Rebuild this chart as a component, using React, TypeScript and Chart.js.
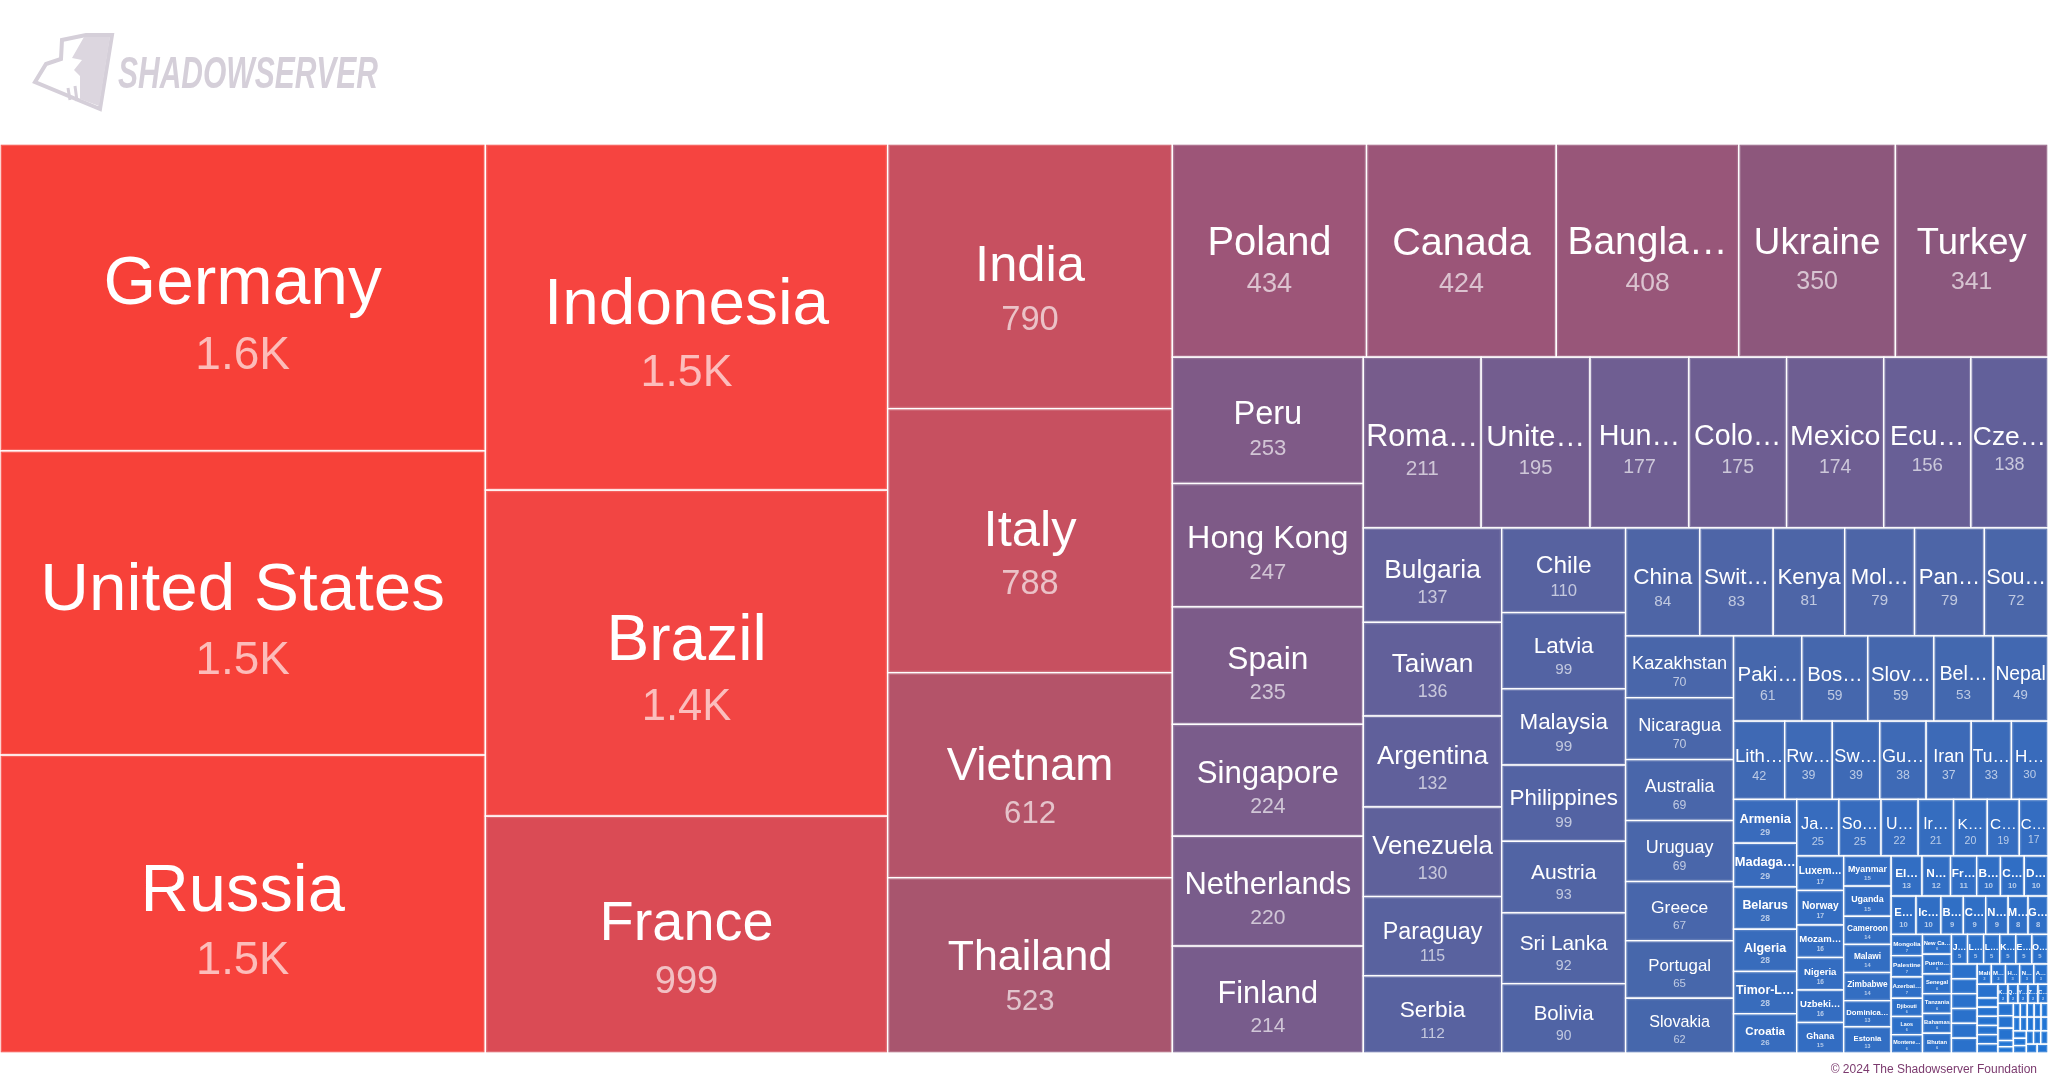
import React, { useEffect, useRef } from 'react';
import { Chart, DatasetController, Element, registerables } from 'chart.js';

// ---------------- data ----------------
const countryNames: string[] = [
  'Germany', 'United States', 'Russia', 'Indonesia', 'Brazil', 'France', 'India', 'Italy', 'Vietnam', 'Thailand',
  'Poland', 'Canada', 'Bangladesh', 'Ukraine', 'Turkey', 'Peru', 'Hong Kong', 'Spain', 'Singapore', 'Netherlands',
  'Finland', 'Romania', 'United Kingdom', 'Hungary', 'Colombia', 'Mexico', 'Ecuador', 'Czech Republic', 'Bulgaria', 'Taiwan',
  'Argentina', 'Venezuela', 'Paraguay', 'Serbia', 'Chile', 'Latvia', 'Malaysia', 'Philippines', 'Austria', 'Sri Lanka',
  'Bolivia', 'China', 'Switzerland', 'Kenya', 'Moldova', 'Panama', 'South Africa', 'Kazakhstan', 'Nicaragua', 'Australia',
  'Uruguay', 'Greece', 'Portugal', 'Slovakia', 'Pakistan', 'Bosnia and Herzegovina', 'Slovenia', 'Belgium', 'Nepal', 'Lithuania',
  'Rwanda', 'Sweden', 'Guatemala', 'Iran', 'Tunisia', 'Honduras', 'Armenia', 'Madagascar', 'Belarus', 'Algeria',
  'Timor-Leste', 'Croatia', 'Japan', 'South Korea', 'United Arab Emirates', 'Ireland', 'Kyrgyzstan', 'Costa Rica', 'Cyprus', 'Luxembourg',
  'Norway', 'Mozambique', 'Nigeria', 'Uzbekistan', 'Ghana', 'Myanmar', 'Uganda', 'Cameroon', 'Malawi', 'Zimbabwe',
  'Dominican Republic', 'Estonia', 'El Salvador', 'New Zealand', 'French Polynesia', 'Bahrain', 'Curaçao', 'Denmark', 'Egypt', 'Iceland',
  'Botswana', 'Cambodia', 'North Macedonia', 'Mauritius', 'Georgia', 'Mongolia', 'Palestine', 'Azerbaijan', 'Djibouti', 'Laos',
  'Montenegro', 'New Caledonia', 'Puerto Rico', 'Senegal', 'Tanzania', 'Bahamas', 'Bhutan', 'Jamaica', 'Lebanon', 'Libya',
  'Kosovo', 'European Union', 'Oman', 'Morocco', 'Macao', 'Saudi Arabia', 'San Marino', 'Syria', 'Guam', 'Mali',
  'Malta', 'Haiti', 'Namibia', 'Angola', 'Iraq', 'Togo', 'Niger', 'Sudan', 'Benin', 'Gabon',
  'Fiji', 'Kuwait', 'Qatar', 'Yemen', 'Zambia', 'Congo', 'Liberia', 'Guyana', 'Belize', 'Aruba',
  'Andorra', 'Monaco', 'Liechtenstein', 'Gibraltar', 'Greenland', 'Bermuda', 'Barbados', 'Brunei', 'Burundi', 'Chad',
  'Eritrea', 'Gambia', 'Guinea', 'Lesotho', 'Maldives', 'Samoa', 'Tonga', 'Vanuatu', 'Suriname',
];

const countryValues: number[] = [
  1562, 1548, 1516, 1460, 1375, 999, 790, 788, 612, 523,
  434, 424, 408, 350, 341, 253, 247, 235, 224, 220,
  214, 211, 195, 177, 175, 174, 156, 138, 137, 136,
  132, 130, 115, 112, 110, 99, 99, 99, 93, 92,
  90, 84, 83, 81, 79, 79, 72, 70, 70, 69,
  69, 67, 65, 62, 61, 59, 59, 53, 49, 42,
  39, 39, 38, 37, 33, 30, 29, 29, 28, 28,
  28, 26, 25, 25, 22, 21, 20, 19, 17, 17,
  17, 16, 16, 16, 15, 15, 15, 14, 14, 14,
  13, 13, 13, 12, 11, 10, 10, 10, 10, 10,
  9, 9, 9, 8, 8, 7, 7, 7, 6, 6,
  6, 6, 6, 6, 6, 6, 6, 5, 5, 5,
  5, 5, 5, 4, 4, 4, 4, 4, 4, 3,
  3, 3, 3, 3, 3, 2, 2, 2, 2, 2,
  2, 2, 2, 2, 2, 2, 2, 2, 2, 1,
  1, 1, 1, 1, 1, 1, 1, 1, 1, 1,
  1, 1, 1, 1, 1, 1, 1, 1, 1,
];

// ---------------- styles ----------------
// colour anchors: [value, r, g, b]
const colorStops: number[][] = [
  [1, 32, 116, 212],
  [26, 55, 108, 190],
  [62, 70, 103, 172],
  [90, 80, 100, 165],
  [112, 88, 98, 160],
  [214, 120, 92, 140],
  [341, 139, 87, 125],
  [434, 157, 85, 120],
  [523, 168, 85, 110],
  [790, 199, 80, 96],
  [999, 218, 75, 85],
  [1460, 246, 68, 64],
  [1562, 247, 64, 56],
];

function colorFor(v: number): string {
  const lv = Math.log(Math.max(v, 1));
  if (v <= colorStops[0][0]) return `rgb(${colorStops[0][1]},${colorStops[0][2]},${colorStops[0][3]})`;
  for (let i = 1; i < colorStops.length; i++) {
    const a = colorStops[i - 1], b = colorStops[i];
    if (v <= b[0]) {
      const t = (lv - Math.log(a[0])) / (Math.log(b[0]) - Math.log(a[0]));
      const r = Math.round(a[1] + (b[1] - a[1]) * t);
      const g = Math.round(a[2] + (b[2] - a[2]) * t);
      const bl = Math.round(a[3] + (b[3] - a[3]) * t);
      return `rgb(${r},${g},${bl})`;
    }
  }
  const l = colorStops[colorStops.length - 1];
  return `rgb(${l[1]},${l[2]},${l[3]})`;
}

function formatValue(v: number): string {
  return v >= 1000 ? (v / 1000).toFixed(1) + 'K' : String(v);
}

const FONT = '"Liberation Sans", Arial, Helvetica, sans-serif';
const PHI = (1 + Math.sqrt(5)) / 2;

// squarified layout (same algorithm as d3.treemapSquarify)
function squarify(values: number[], x0: number, y0: number, x1: number, y1: number) {
  const n = values.length;
  const out: any[] = new Array(n);
  let value = values.reduce((a, b) => a + b, 0);
  let i0 = 0, i1 = 0;
  while (i0 < n) {
    const dx = x1 - x0, dy = y1 - y0;
    let sumValue = 0;
    do sumValue = values[i1++]; while (!sumValue && i1 < n);
    let minValue = sumValue, maxValue = sumValue;
    const alpha = Math.max(dy / dx, dx / dy) / (value * PHI);
    let beta = sumValue * sumValue * alpha;
    let minRatio = Math.max(maxValue / beta, beta / minValue);
    for (; i1 < n; ++i1) {
      const nv = values[i1];
      sumValue += nv;
      if (nv < minValue) minValue = nv;
      if (nv > maxValue) maxValue = nv;
      beta = sumValue * sumValue * alpha;
      const newRatio = Math.max(maxValue / beta, beta / minValue);
      if (newRatio > minRatio) { sumValue -= nv; break; }
      minRatio = newRatio;
    }
    if (dx < dy) {
      const ny = dy ? y0 + dy * sumValue / value : y1;
      let cx = x0;
      const k = sumValue ? (x1 - x0) / sumValue : 0;
      for (let i = i0; i < i1; i++) {
        const nx = cx + values[i] * k;
        out[i] = { x0: cx, y0, x1: nx, y1: ny };
        cx = nx;
      }
      y0 = ny;
    } else {
      const nx = dx ? x0 + dx * sumValue / value : x1;
      let cy = y0;
      const k = sumValue ? (y1 - y0) / sumValue : 0;
      for (let i = i0; i < i1; i++) {
        const ny = cy + values[i] * k;
        out[i] = { x0, y0: cy, x1: nx, y1: ny };
        cy = ny;
      }
      x0 = nx;
    }
    value -= sumValue;
    i0 = i1;
  }
  return out;
}

// ---------------- chart.js treemap element & controller ----------------
class TreemapCell extends Element {
  static id = 'treemapCell';
  static defaults = {};

  draw(ctx: CanvasRenderingContext2D) {
    const me: any = this;
    const { x, y, w, h } = me;
    if (!(w > 0 && h > 0)) return;
    ctx.save();
    ctx.fillStyle = me.color;
    ctx.fillRect(x, y, w, h);
    ctx.lineWidth = 1.5;
    ctx.strokeStyle = '#ffffff';
    ctx.strokeRect(x, y, w, h);
    if (w > 6 && h > 6) {
      ctx.lineWidth = 1;
      ctx.strokeStyle = 'rgba(255,255,255,0.18)';
      ctx.strokeRect(x + 1.5, y + 1.5, w - 3, h - 3);
    }

    let f = Math.min(0.1523 * Math.sqrt(w * h) + 8.9, h / 3.4);
    if (f >= 4.5) {
      ctx.beginPath();
      ctx.rect(x, y, w, h);
      ctx.clip();
      const setFont = (size: number, bold: boolean) => {
        ctx.font = `${bold ? 'bold ' : ''}${size}px ${FONT}`;
      };
      const bold = f < 14;
      const pad = 1;
      const avail = w - 2 * pad;
      let text: string = me.label;
      setFont(f, bold);
      const full = ctx.measureText(text).width;
      if (full > avail) {
        const fFit = f * avail / full;
        if (fFit >= 0.985 * f) {
          f = fFit;
          setFont(f, bold);
        } else {
          let nChars = text.length - 1;
          let cand = text.slice(0, nChars).trimEnd() + '…';
          while (nChars > 1 && ctx.measureText(cand).width > avail) {
            nChars--;
            cand = text.slice(0, nChars).trimEnd() + '…';
          }
          text = cand;
        }
      }
      ctx.textAlign = 'center';
      ctx.textBaseline = 'alphabetic';
      const cx = x + w / 2, cy = y + h / 2;
      ctx.fillStyle = '#ffffff';
      ctx.fillText(text, cx, cy + 0.1 * f);
      setFont(0.68 * f, bold);
      ctx.fillStyle = 'rgba(255,255,255,0.65)';
      ctx.fillText(formatValue(me.value), cx, cy + 1.05 * f);
    }
    ctx.restore();
  }

  inRange() { return false; }
  inXRange() { return false; }
  inYRange() { return false; }
  getCenterPoint() {
    const me: any = this;
    return { x: me.x + me.w / 2, y: me.y + me.h / 2 };
  }
  tooltipPosition() { return this.getCenterPoint(); }
}

class TreemapController extends DatasetController {
  static id = 'treemap';
  static defaults = {
    datasetElementType: false,
    dataElementType: 'treemapCell',
  };

  update(mode: any) {
    const meta: any = (this as any)._cachedMeta;
    this.updateElements(meta.data, 0, meta.data.length, mode);
  }

  updateElements(elements: any[], start: number, count: number, _mode: any) {
    const meta: any = (this as any)._cachedMeta;
    const ds: any = this.getDataset();
    const xs = meta.xScale, ys = meta.yScale;
    const vals: number[] = ds.values;
    const names: string[] = ds.names;
    const rects = squarify(vals, xs.min, ys.min, xs.max, ys.max);
    for (let i = start; i < start + count; i++) {
      const r = rects[i];
      const px0 = xs.getPixelForValue(r.x0), px1 = xs.getPixelForValue(r.x1);
      const py0 = ys.getPixelForValue(r.y0), py1 = ys.getPixelForValue(r.y1);
      Object.assign(elements[i], {
        x: Math.min(px0, px1),
        y: Math.min(py0, py1),
        w: Math.abs(px1 - px0),
        h: Math.abs(py1 - py0),
        label: names[i],
        value: vals[i],
        color: colorFor(vals[i]),
      });
    }
  }
}

Chart.register(...registerables, TreemapController as any, TreemapCell as any);

// ---------------- header / footer ----------------
const brandingPlugin = {
  id: 'branding',
  afterDraw(chart: any) {
    const ctx: CanvasRenderingContext2D = chart.ctx;
    ctx.save();
    const logoColor = '#d5cfd9';
    // logo icon outline
    ctx.strokeStyle = logoColor;
    ctx.lineWidth = 4;
    ctx.lineJoin = 'miter';
    ctx.beginPath();
    ctx.moveTo(35, 82);
    ctx.lineTo(46, 64);
    ctx.lineTo(61, 59);
    ctx.lineTo(62, 40);
    ctx.lineTo(86, 35);
    ctx.lineTo(112, 35);
    ctx.lineTo(100, 109);
    ctx.closePath();
    ctx.stroke();
    // logo icon shadow
    ctx.fillStyle = '#dcd6df';
    ctx.beginPath();
    ctx.moveTo(84, 37);
    ctx.lineTo(110, 37);
    ctx.lineTo(99, 106);
    ctx.lineTo(80, 99);
    ctx.lineTo(80, 76);
    ctx.lineTo(74, 70);
    ctx.lineTo(82, 60);
    ctx.lineTo(72, 58);
    ctx.closePath();
    ctx.fill();
    ctx.lineWidth = 3;
    ctx.beginPath();
    ctx.moveTo(68, 88);
    ctx.lineTo(70, 100);
    ctx.moveTo(75, 86);
    ctx.lineTo(77, 101);
    ctx.stroke();
    // logo text
    ctx.fillStyle = logoColor;
    ctx.font = `italic bold 45px "Liberation Sans Narrow", ${FONT}`;
    ctx.textAlign = 'left';
    ctx.textBaseline = 'alphabetic';
    ctx.fillText('SHADOWSERVER', 118, 88, 260);
    // copyright
    ctx.fillStyle = '#7b3a6e';
    ctx.font = `12px ${FONT}`;
    ctx.textAlign = 'right';
    ctx.fillText('© 2024 The Shadowserver Foundation', 2037, 1073);
    ctx.restore();
  },
};

export default function App() {
  const ref = useRef<HTMLCanvasElement>(null);
  useEffect(() => {
    document.body.style.margin = '0';
    const canvas = ref.current;
    if (!canvas) return;
    const chart = new Chart(canvas, {
      type: 'treemap' as any,
      data: {
        datasets: [
          {
            data: countryValues.map((v, i) => ({ x: i, y: v })),
            values: countryValues,
            names: countryNames,
            parsing: false,
          } as any,
        ],
      },
      options: {
        responsive: false,
        animation: false,
        events: [],
        devicePixelRatio: 1,
        layout: { padding: { top: 144, bottom: 30, left: 0, right: 0 } },
        scales: {
          x: { type: 'linear', min: 0, max: 2048, bounds: 'data', display: false },
          y: { type: 'linear', min: 0, max: 909, bounds: 'data', reverse: true, display: false },
        },
        plugins: {
          legend: { display: false },
          tooltip: { enabled: false },
          colors: { enabled: false },
        },
      } as any,
      plugins: [brandingPlugin],
    });
    return () => chart.destroy();
  }, []);
  return (
    <canvas
      ref={ref}
      width={2048}
      height={1083}
      style={{ display: 'block', width: 2048, height: 1083 }}
    />
  );
}
